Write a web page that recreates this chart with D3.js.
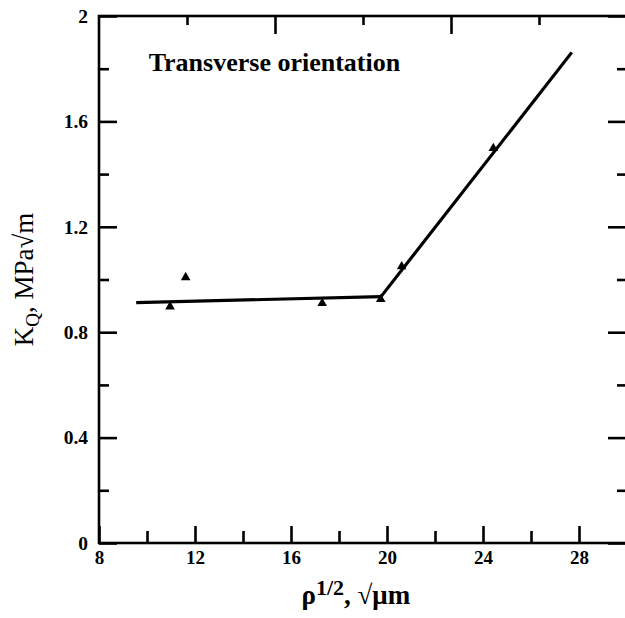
<!DOCTYPE html>
<html>
<head>
<meta charset="utf-8">
<script src="https://cdn.jsdelivr.net/npm/d3@7"></script>
<style>
  html, body { margin: 0; padding: 0; background: #fff; }
  svg { display: block; }
  text { font-family: "Liberation Serif", "Times New Roman", serif; fill: #000; }
</style>
</head>
<body>
<svg id="chart" width="625" height="618"></svg>
<script>
// ---- data ----
const pointsX = [10.96, 11.61, 17.30, 19.74, 20.61, 24.43];
const pointsY = [0.897, 1.008, 0.910, 0.925, 1.049, 1.498];
const fitLowX = [9.55, 19.75];
const fitLowY = [0.912, 0.935];
const fitHighX = [19.75, 27.7];
const fitHighY = [0.935, 1.862];
const xMajorTicks = [8, 12, 16, 20, 24, 28];
const xMinorTicks = [10, 14, 18, 22, 26];
const yMajorTicks = [0, 0.4, 0.8, 1.2, 1.6, 2];
const yMinorTicks = [0.2, 0.6, 1.0, 1.4, 1.8];
const topMajorTicks = [2, 4];
const topMinorTicks = [1, 3, 5];
const titleText = "Transverse orientation";

(function () {
// ---- layout ----
const svg = d3.select("#chart");
const mLeft = 99, mRight = 627, mTop = 16, mBottom = 543;
const x = d3.scaleLinear().domain([8, 30]).range([mLeft, mRight]);
const y = d3.scaleLinear().domain([0, 2]).range([mBottom, mTop]);
const xTop = d3.scaleLinear().domain([0, 6]).range([mLeft, mRight]);

const axisW = 2.6;
function styleAxis(g) {
  g.select(".domain").remove();
  g.selectAll(".tick line").attr("stroke", "#000").attr("stroke-width", axisW);
}

// bottom axis
svg.append("g").attr("transform", `translate(0,${mBottom})`)
  .call(d3.axisBottom(x).tickValues(xMajorTicks).tickSize(-17).tickPadding(8).tickFormat(d3.format("d")))
  .call(styleAxis)
  .call(g => g.selectAll("text").attr("font-size", 19).attr("font-weight", "bold"));
svg.append("g").attr("transform", `translate(0,${mBottom})`)
  .call(d3.axisBottom(x).tickValues(xMinorTicks).tickSize(-12).tickFormat(""))
  .call(styleAxis);

// top axis
svg.append("g").attr("transform", `translate(0,${mTop})`)
  .call(d3.axisTop(xTop).tickValues(topMajorTicks).tickSize(-18).tickFormat(""))
  .call(styleAxis);
svg.append("g").attr("transform", `translate(0,${mTop})`)
  .call(d3.axisTop(xTop).tickValues(topMinorTicks).tickSize(-9).tickFormat(""))
  .call(styleAxis);

// left axis
svg.append("g").attr("transform", `translate(${mLeft},0)`)
  .call(d3.axisLeft(y).tickValues(yMajorTicks).tickSize(-18).tickPadding(11).tickFormat(d => String(+d.toFixed(1))))
  .call(styleAxis)
  .call(g => g.selectAll("text").attr("font-size", 19.5).attr("font-weight", "bold"));
svg.append("g").attr("transform", `translate(${mLeft},0)`)
  .call(d3.axisLeft(y).tickValues(yMinorTicks).tickSize(-10).tickFormat(""))
  .call(styleAxis);

// right axis
svg.append("g").attr("transform", `translate(${mRight},0)`)
  .call(d3.axisRight(y).tickValues(yMajorTicks).tickSize(-19).tickFormat(""))
  .call(styleAxis);
svg.append("g").attr("transform", `translate(${mRight},0)`)
  .call(d3.axisRight(y).tickValues(yMinorTicks).tickSize(-10).tickFormat(""))
  .call(styleAxis);

// frame
svg.append("rect")
  .attr("x", mLeft).attr("y", mTop)
  .attr("width", mRight - mLeft).attr("height", mBottom - mTop)
  .attr("fill", "none").attr("stroke", "#000").attr("stroke-width", axisW);

// fit lines
const line = d3.line().x(d => x(d[0])).y(d => y(d[1]));
svg.append("path").datum(d3.zip(fitLowX, fitLowY))
  .attr("d", line).attr("fill", "none").attr("stroke", "#000").attr("stroke-width", 3.2);
svg.append("path").datum(d3.zip(fitHighX, fitHighY))
  .attr("d", line).attr("fill", "none").attr("stroke", "#000").attr("stroke-width", 3.2);

// points
const tri = d3.symbol().type(d3.symbolTriangle).size(40);
svg.append("g").selectAll("path").data(d3.zip(pointsX, pointsY)).join("path")
  .attr("transform", d => `translate(${x(d[0])},${y(d[1])})`)
  .attr("d", tri).attr("fill", "#000");

// annotation
svg.append("text")
  .attr("x", x(10.07)).attr("y", y(1.79))
  .attr("font-size", 26).attr("font-weight", "bold")
  .text(titleText);

// x title
const xt = svg.append("text")
  .attr("x", x(18.7)).attr("y", 604)
  .attr("text-anchor", "middle")
  .attr("font-size", 27).attr("font-weight", "bold");
xt.append("tspan").text("ρ");
xt.append("tspan").attr("font-size", 22).attr("dy", -9).text("1/2");
xt.append("tspan").attr("dy", 9).text(", √μm");

// y title
const yt = svg.append("text")
  .attr("transform", `translate(33,${y(1.0)}) rotate(-90)`)
  .attr("text-anchor", "middle")
  .attr("font-size", 27);
yt.append("tspan").text("K");
yt.append("tspan").attr("font-size", 19).attr("dy", 6).text("Q");
yt.append("tspan").attr("dy", -6).text(", MPa√m");
})();
</script>
</body>
</html>
